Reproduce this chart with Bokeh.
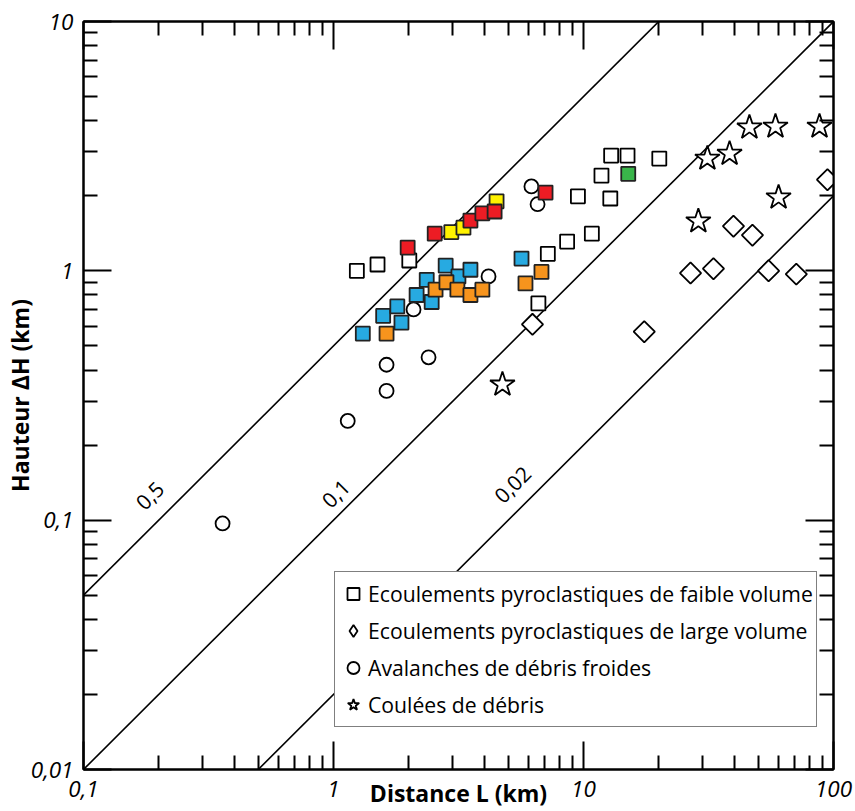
import math
from bokeh.plotting import figure
from bokeh.models import (LogAxis, FixedTicker, CustomJSTickFormatter, Label,
                          Legend, LegendItem, Range1d, ColumnDataSource)
from bokeh.embed import file_html
from bokeh.resources import INLINE

# ---------------- data ----------------
# Ecoulements pyroclastiques de faible volume (open squares)
faible_L = [1.24, 1.50, 2.01, 6.6, 7.2, 8.6, 10.8, 9.5, 12.8, 11.8, 12.9, 15.0, 20.1]
faible_H = [1.00, 1.06, 1.10, 0.74, 1.17, 1.31, 1.41, 1.99, 1.95, 2.41, 2.90, 2.90, 2.82]
# coloured squares (same family, individual volcanoes)
blue_L = [1.31, 1.58, 1.80, 1.87, 2.15, 2.36, 2.47, 2.81, 3.16, 3.53, 5.65]
blue_H = [0.56, 0.66, 0.72, 0.62, 0.80, 0.92, 0.75, 1.05, 0.95, 1.01, 1.12]
orange_L = [1.63, 2.56, 2.83, 3.13, 3.53, 3.94, 5.86, 6.79]
orange_H = [0.56, 0.84, 0.90, 0.84, 0.80, 0.84, 0.89, 0.99]
yellow_L = [2.96, 3.31, 4.49]
yellow_H = [1.43, 1.49, 1.90]
red_L = [1.98, 2.54, 3.53, 3.94, 4.41, 7.05]
red_H = [1.24, 1.41, 1.59, 1.70, 1.73, 2.06]
green_L = [15.1]
green_H = [2.45]
# Ecoulements pyroclastiques de large volume (diamonds)
large_L = [6.25, 17.5, 26.8, 33.1, 39.8, 47.4, 55.0, 71.0, 94.6]
large_H = [0.61, 0.57, 0.98, 1.02, 1.51, 1.39, 1.00, 0.97, 2.32]
# Avalanches de debris froides (circles)
aval_L = [0.36, 1.14, 1.63, 1.63, 2.40, 2.09, 4.17, 6.19, 6.55]
aval_H = [0.097, 0.25, 0.33, 0.42, 0.45, 0.70, 0.95, 2.18, 1.85]
# Coulees de debris (stars)
coulee_L = [4.74, 28.8, 31.3, 38.4, 46.1, 58.6, 87.9, 60.3]
coulee_H = [0.35, 1.58, 2.82, 2.95, 3.76, 3.79, 3.79, 1.97]

# H/L reference lines
ratios = [0.5, 0.1, 0.02]
ratio_labels = ["0,5", "0,1", "0,02"]

x_ticks = [0.1, 1, 10, 100]
x_tick_labels = ["0,1", "1", "10", "100"]
y_ticks = [0.01, 0.1, 1, 10]
y_tick_labels = ["0,01", "0,1", "1", "10"]

x_title = "Distance L (km)"
y_title = "Hauteur ΔH (km)"
legend_labels = ["Ecoulements pyroclastiques de faible volume",
                 "Ecoulements pyroclastiques de large volume",
                 "Avalanches de débris froides",
                 "Coulées de débris"]

# ---------------- styles / layout ----------------
FONT = "Open Sans"
RED, YELLOW, BLUE, ORANGE, GREEN = "#ED1C24", "#FFF200", "#27AAE1", "#F7941D", "#39B54A"

p = figure(width=855, height=811, x_axis_type="log", y_axis_type="log",
           x_range=Range1d(x_ticks[0], x_ticks[-1]), y_range=Range1d(y_ticks[0], y_ticks[-1]),
           output_backend="svg", toolbar_location=None,
           min_border_left=83, min_border_right=22, min_border_top=21, min_border_bottom=42)
p.xgrid.visible = False
p.ygrid.visible = False
p.outline_line_color = "black"
p.outline_line_width = 2
p.background_fill_color = "white"

def minor(ticks):
    out = []
    for t in ticks[:-1]:
        out += [m * t for m in range(2, 10)]
    return out

fmt_code = """
for (let i = 0; i < vals.length; i++) {
  if (Math.abs(Math.log10(tick) - Math.log10(vals[i])) < 1e-6) { return labs[i]; }
}
return "";
"""

def style_axis(ax, ticks, labels, show_labels, standoff=10):
    ax.ticker = FixedTicker(ticks=ticks, minor_ticks=minor(ticks))
    ax.formatter = CustomJSTickFormatter(args=dict(vals=ticks, labs=labels if show_labels else [""] * len(labels)), code=fmt_code)
    ax.axis_line_width = 2
    ax.axis_line_color = "black"
    ax.major_tick_in = 28
    ax.major_tick_out = 0
    ax.minor_tick_in = 14
    ax.minor_tick_out = 0
    ax.major_tick_line_width = 2
    ax.minor_tick_line_width = 2
    ax.major_tick_line_color = "black"
    ax.minor_tick_line_color = "black"
    ax.major_label_text_font = FONT
    ax.major_label_text_font_style = "italic"
    ax.major_label_text_color = "black"
    if show_labels:
        ax.major_label_text_font_size = "22.5px"
        ax.major_label_standoff = standoff
    else:
        ax.major_label_text_font_size = "0px"
        ax.major_label_standoff = 0
    ax.axis_label_text_font = FONT
    ax.axis_label_text_font_style = "bold"
    ax.axis_label_text_font_size = "23px"
    ax.axis_label_text_color = "black"

style_axis(p.xaxis[0], x_ticks, x_tick_labels, True, standoff=11)
style_axis(p.yaxis[0], y_ticks, y_tick_labels, True, standoff=10)
p.xaxis[0].axis_label = x_title
p.xaxis[0].axis_label_standoff = -23
p.yaxis[0].axis_label = y_title
p.yaxis[0].axis_label_standoff = -8

top_ax = LogAxis()
style_axis(top_ax, x_ticks, x_tick_labels, False)
p.add_layout(top_ax, "above")
right_ax = LogAxis()
style_axis(right_ax, y_ticks, y_tick_labels, False)
p.add_layout(right_ax, "right")

# reference lines H = r * L
for r in ratios:
    xs = [x_ticks[0], x_ticks[-1]]
    p.line(xs, [r * x for x in xs], line_color="black", line_width=1.6)

# line labels (positions in data space, rotated along the lines)
label_pos = [(0.184, 0.1256), (1.02, 0.128), (5.2, 0.139)]
for (lx, ly), txt in zip(label_pos, ratio_labels):
    p.add_layout(Label(x=lx, y=ly, text=txt, angle=45, angle_units="deg",
                       text_font=FONT, text_font_size="21px", text_align="center",
                       text_baseline="middle", text_color="black"))

MS = 14
LW = 1.8
r_circ = p.scatter(aval_L, aval_H, marker="circle", size=MS, fill_color="white",
                   line_color="black", line_width=LW)
r_sq = p.scatter(faible_L, faible_H, marker="square", size=MS, fill_color="white",
                 line_color="black", line_width=LW)
p.scatter(blue_L, blue_H, marker="square", size=MS, fill_color=BLUE, line_color="#222222", line_width=LW)
p.scatter(orange_L, orange_H, marker="square", size=MS, fill_color=ORANGE, line_color="#222222", line_width=LW)
p.scatter(yellow_L, yellow_H, marker="square", size=MS, fill_color=YELLOW, line_color="#222222", line_width=LW)
p.scatter(red_L, red_H, marker="square", size=MS, fill_color=RED, line_color="#222222", line_width=LW)
p.scatter(green_L, green_H, marker="square", size=MS, fill_color=GREEN, line_color="#222222", line_width=LW)
large_src = ColumnDataSource(dict(L=large_L, H=large_H))
p.scatter("L", "H", source=large_src, marker="square", angle=math.pi / 4, size=15,
          fill_color="white", line_color="black", line_width=LW)
r_star = p.scatter(coulee_L, coulee_H, marker="star", size=26, fill_color="white",
                   line_color="black", line_width=LW)
# diamond glyph used only for the legend entry (hidden renderer of the same data)
r_dia = p.scatter("L", "H", source=large_src, marker="diamond", size=18, fill_color="white",
                  line_color="black", line_width=LW, visible=False)

legend = Legend(items=[LegendItem(label=legend_labels[0], renderers=[r_sq]),
                       LegendItem(label=legend_labels[1], renderers=[r_dia]),
                       LegendItem(label=legend_labels[2], renderers=[r_circ]),
                       LegendItem(label=legend_labels[3], renderers=[r_star])],
                location=(251, 42), orientation="vertical", padding=3, spacing=0,
                margin=0, glyph_width=30, glyph_height=37, label_height=20,
                label_standoff=0, label_text_font=FONT, label_text_font_size="21.2px",
                label_text_color="black", border_line_color="black",
                border_line_width=1.5, background_fill_color="white",
                background_fill_alpha=1.0, click_policy="none")
p.add_layout(legend)

open("out.html", "w").write(file_html(p, INLINE))
